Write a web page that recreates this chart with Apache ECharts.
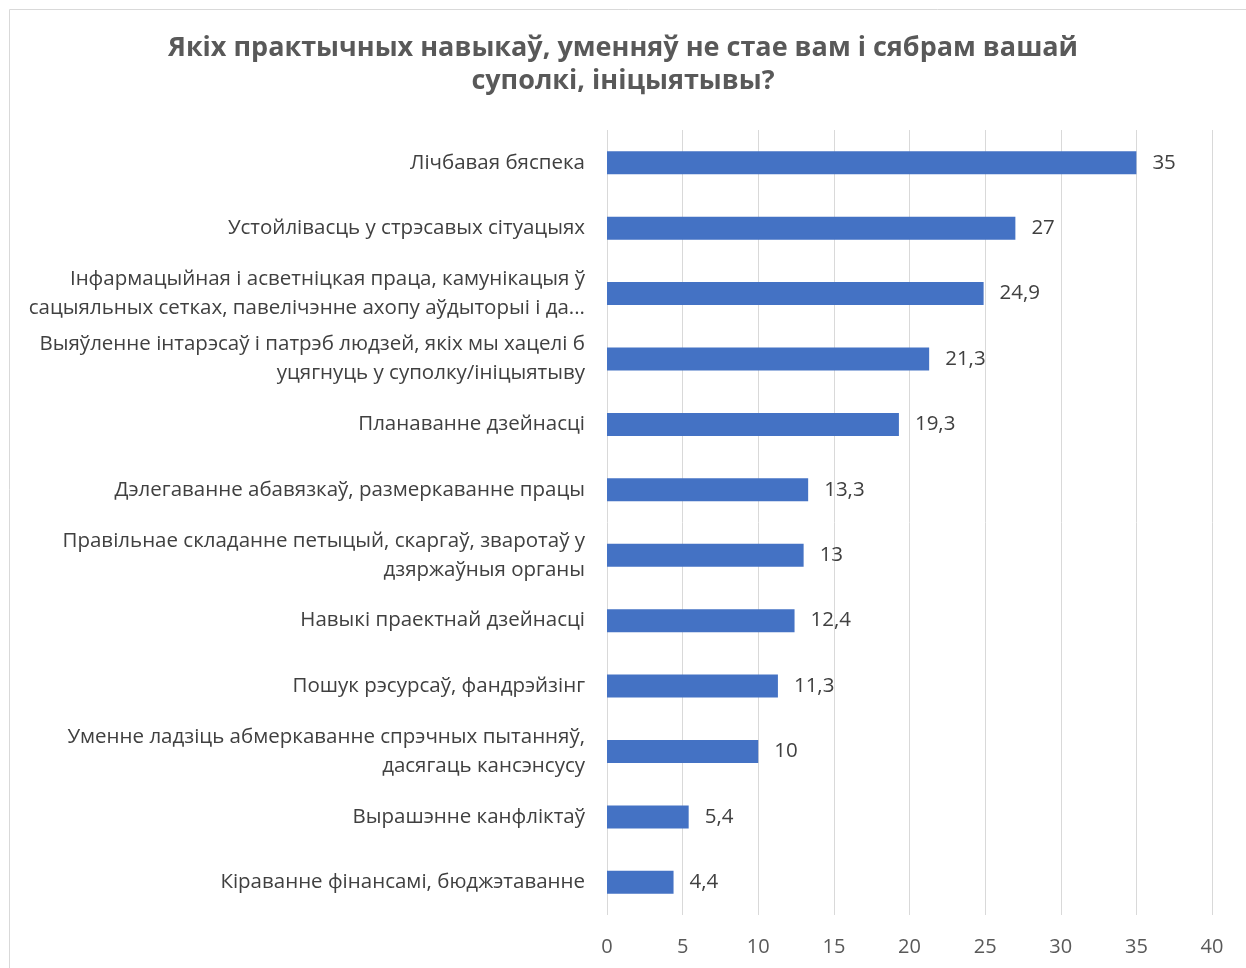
<!DOCTYPE html>
<html>
<head>
<meta charset="utf-8">
<script src="https://cdn.jsdelivr.net/npm/echarts@6/dist/echarts.min.js"></script>
<style>
  html, body { margin: 0; padding: 0; background: #fff; }
  #chart { width: 1246px; height: 968px; }
</style>
</head>
<body>
<div id="chart"></div>
<script>
var chartTitle = "Якіх практычных навыкаў, уменняў не стае вам і сябрам вашай\nсуполкі, ініцыятывы?";

// top to bottom, as in the picture
var categories = [
  "Лічбавая бяспека",
  "Устойлівасць у стрэсавых сітуацыях",
  "Інфармацыйная і асветніцкая праца, камунікацыя ў\nсацыяльных сетках, павелічэнне ахопу аўдыторыі і да...",
  "Выяўленне інтарэсаў і патрэб людзей, якіх мы хацелі б\nуцягнуць у суполку/ініцыятыву",
  "Планаванне дзейнасці",
  "Дэлегаванне абавязкаў, размеркаванне працы",
  "Правільнае складанне петыцый, скаргаў, зваротаў у\nдзяржаўныя органы",
  "Навыкі праектнай дзейнасці",
  "Пошук рэсурсаў, фандрэйзінг",
  "Уменне ладзіць абмеркаванне спрэчных пытанняў,\nдасягаць кансэнсусу",
  "Вырашэнне канфліктаў",
  "Кіраванне фінансамі, бюджэтаванне"
];
var values = [35, 27, 24.9, 21.3, 19.3, 13.3, 13, 12.4, 11.3, 10, 5.4, 4.4];

var axisMin = 0, axisMax = 40, axisStep = 5;

var font = "'Open Sans', 'Noto Sans', sans-serif";

var el = document.getElementById("chart");
var chart = echarts.init(el);

chart.setOption({
  animation: false,
  textStyle: { fontFamily: font },
  title: {
    text: chartTitle,
    left: "center",
    top: 27,
    textStyle: {
      fontFamily: font,
      fontSize: 27,
      fontWeight: "bold",
      color: "#595959",
      lineHeight: 33
    }
  },
  graphic: [{
    type: "rect",
    shape: { x: 9.5, y: 9.5, width: 1400, height: 1100 },
    style: { fill: "none", stroke: "#d9d9d9", lineWidth: 1 },
    silent: true
  }],
  grid: { left: 607, right: 34, top: 130, bottom: 53 },
  xAxis: {
    type: "value",
    min: axisMin,
    max: axisMax,
    interval: axisStep,
    axisLine: { show: false },
    axisTick: { show: false },
    splitLine: { lineStyle: { color: "#d9d9d9", width: 1 } },
    axisLabel: {
      color: "#595959",
      fontSize: 20,
      margin: 22,
      formatter: function (v) { return String(v); }
    }
  },
  yAxis: {
    type: "category",
    inverse: true,
    data: categories,
    axisLine: { show: false },
    axisTick: { show: false },
    axisLabel: {
      color: "#404040",
      fontSize: 20.5,
      lineHeight: 29,
      margin: 22,
      align: "right"
    }
  },
  series: [{
    type: "bar",
    data: values,
    barWidth: 23,
    itemStyle: { color: "#4472c4" },
    label: {
      show: true,
      position: "right",
      distance: 16,
      color: "#404040",
      fontSize: 20.5,
      formatter: function (p) { return String(p.value).replace(".", ","); }
    }
  }]
});
</script>
</body>
</html>
